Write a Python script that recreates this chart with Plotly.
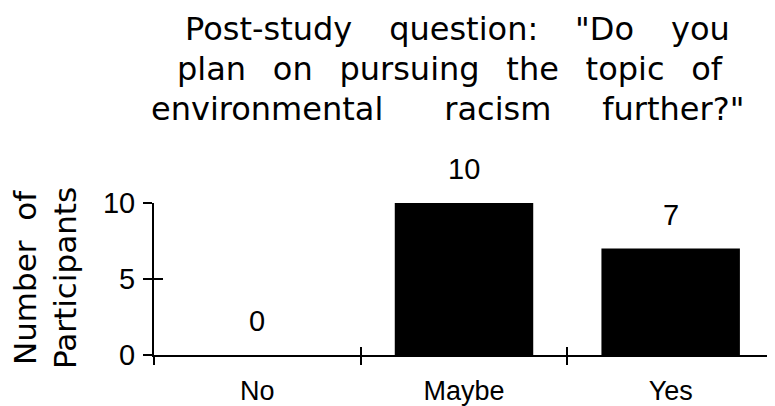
import plotly.graph_objects as go

categories = ["No", "Maybe", "Yes"]
participants = [0, 10, 7]
title_lines = ['Post-study   \u2009question:   \u2009"Do   \u2009you',
               'plan  \u2009on  \u2009pursuing  \u2009the  \u2009topic  \u2009of',
               'environmental      racism     further?"']
y_title_lines = ["Number  of", "Participants"]
y_ticks = [0, 5, 10]

# page body has an 8px margin, so the figure is drawn 8px smaller and offset
OFF = 8
W, H = 775 - OFF, 406 - OFF
ML, MR, MT, MB = 154 - OFF, 1, 203 - OFF, 51
PW, PH = W - ML - MR, H - MT - MB


def px(xp):
    return (xp - OFF - ML) / PW


def py(yp):
    return (H - MB - (yp - OFF)) / PH


num_font = dict(family="Liberation Sans, Arial", size=29, color="black")
cat_font = dict(family="Liberation Sans, Arial", size=27, color="black")
geneva = dict(family="DejaVu Sans", size=32, color="black")
axis_title_font = dict(family="DejaVu Sans", size=31, color="black")

fig = go.Figure()
fig.add_trace(go.Bar(x=categories, y=participants, marker=dict(color="black", line=dict(width=0)),
                     width=0.67, hoverinfo="skip", showlegend=False))
# invisible twin trace so the second axes pair can draw the inner half of the crossing ticks
fig.add_trace(go.Bar(x=categories, y=participants, xaxis="x2", yaxis="y2", marker=dict(opacity=0),
                     width=0.67, hoverinfo="skip", showlegend=False))

for c, v in zip(categories, participants):
    fig.add_annotation(x=c, y=v, xref="x", yref="y", text=str(v), showarrow=False,
                       yanchor="middle", yshift=34, font=num_font)

title_centers = [(457, 29), (450, 69), (447, 109)]
for line, (cx, cy) in zip(title_lines, title_centers):
    fig.add_annotation(text=line, xref="paper", yref="paper", x=px(cx), y=py(cy),
                       xanchor="center", yanchor="middle", showarrow=False, font=geneva)

fig.add_annotation(text="<br>".join(y_title_lines), xref="paper", yref="paper",
                   x=px(45), y=py(278), xanchor="center", yanchor="middle",
                   textangle=-90, showarrow=False, font=axis_title_font)

fig.update_layout(
    width=W, height=H,
    margin=dict(l=ML, r=MR, t=MT, b=MB, autoexpand=False),
    paper_bgcolor="white", plot_bgcolor="white",
    bargap=0.33,
    xaxis=dict(type="category", categoryarray=categories, range=[-0.5, 2.5],
               tickson="boundaries", ticks="outside", ticklen=8, tickwidth=2, tickcolor="black",
               showline=True, linecolor="black", linewidth=2, showgrid=False, zeroline=False,
               tickfont=cat_font, ticklabelstandoff=11, fixedrange=True),
    yaxis=dict(range=[0, 10], tickvals=y_ticks, ticks="outside", ticklen=9, tickwidth=2,
               tickcolor="black", showline=True, linecolor="black", linewidth=2,
               showgrid=False, zeroline=False, tickfont=num_font, ticklabelstandoff=2,
               fixedrange=True),
    xaxis2=dict(type="category", categoryarray=categories, range=[-0.5, 2.5], overlaying="x",
                anchor="y2", tickson="boundaries", ticks="inside", ticklen=8, tickwidth=2,
                tickcolor="black", showticklabels=False, showline=False, showgrid=False,
                zeroline=False, fixedrange=True),
    yaxis2=dict(range=[0, 10], tickvals=y_ticks, overlaying="y", anchor="x2", side="left",
                ticks="inside", ticklen=9, tickwidth=2, tickcolor="black",
                showticklabels=False, showline=False, showgrid=False, zeroline=False,
                fixedrange=True),
)

fig.write_html("out.html")
